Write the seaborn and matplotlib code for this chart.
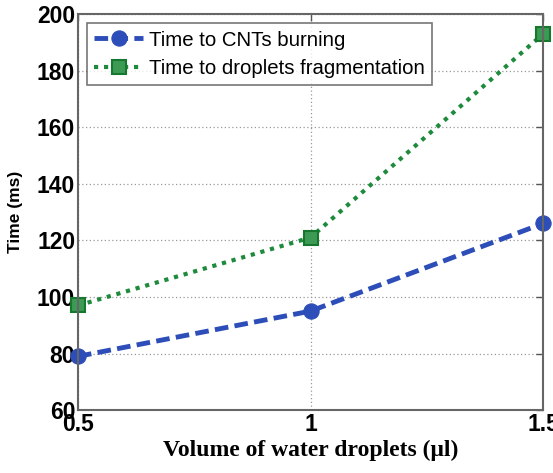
import matplotlib
matplotlib.use("Agg")
import matplotlib.pyplot as plt
import seaborn as sns
import pandas as pd

# Data
volumes = [0.5, 1.0, 1.5]
time_cnt_burning = [79, 95, 126]
time_fragmentation = [97, 121, 193]
series_names = ["Time to CNTs burning", "Time to droplets fragmentation"]
x_ticks = [0.5, 1, 1.5]
x_tick_labels = ["0.5", "1", "1.5"]
y_ticks = [60, 80, 100, 120, 140, 160, 180, 200]


def build_frame():
    df = pd.DataFrame({
        "volume": volumes * 2,
        "time": time_cnt_burning + time_fragmentation,
        "series": [series_names[0]] * 3 + [series_names[1]] * 3,
    })
    return df


def main():
    sns.set_theme(style="white")
    plt.rcParams["font.family"] = ["Liberation Sans", "DejaVu Sans"]

    df = build_frame()
    fig = plt.figure(figsize=(5.53, 4.73), dpi=100)
    ax = fig.add_axes([0.141, 0.133, 0.841, 0.837])

    blue = "#2d4db8"
    green = "#1d8a3c"

    sns.lineplot(data=df[df.series == series_names[0]], x="volume", y="time",
                 ax=ax, color=blue, linewidth=3.5, marker="o", markersize=11,
                 markeredgecolor=blue, label=series_names[0])
    ax.lines[-1].set_dashes([2.8, 1.3])
    sns.lineplot(data=df[df.series == series_names[1]], x="volume", y="time",
                 ax=ax, color=green, linewidth=3, marker="s", markersize=10,
                 markeredgecolor="#16782f", markeredgewidth=1.5,
                 markerfacecolor="#3c9a55", label=series_names[1])
    ax.lines[-1].set_linestyle((0, (1, 1.4)))
    for ln in ax.lines:
        ln.set_clip_on(False)

    ax.set_xlim(0.5, 1.5)
    ax.set_ylim(60, 200)
    ax.set_xticks(x_ticks)
    ax.set_xticklabels(x_tick_labels)
    ax.set_yticks(y_ticks)
    for lbl in ax.get_xticklabels() + ax.get_yticklabels():
        lbl.set_fontweight("bold")
    ax.tick_params(axis="both", direction="in", length=5, width=1,
                   labelsize=16.5, top=True, right=True, colors="#555555",
                   labelcolor="black", pad=2)
    ax.grid(True, linestyle=(0, (1, 2)), color="#999999", linewidth=0.9)
    for sp in ax.spines.values():
        sp.set_color("#666666")
        sp.set_linewidth(1.5)

    ax.set_xlabel("Volume of water droplets (\u03bcl)", fontsize=17,
                  fontweight="bold", family=["Liberation Serif", "DejaVu Serif"],
                  color="black", labelpad=3)
    ax.set_ylabel("Time (ms)", fontsize=12.5, fontweight="bold",
                  color="black", labelpad=10)

    leg = ax.legend(loc="upper left", fontsize=14.7, frameon=True, fancybox=False,
                    handlelength=2.4, borderaxespad=0.45, handletextpad=0.3,
                    labelspacing=0.45, borderpad=0.35)
    for txt in leg.get_texts():
        txt.set_color("black")
    leg.get_frame().set_edgecolor("#555555")
    leg.get_frame().set_linewidth(1.2)

    fig.savefig("out.png", dpi=100)


if __name__ == "__main__":
    main()
